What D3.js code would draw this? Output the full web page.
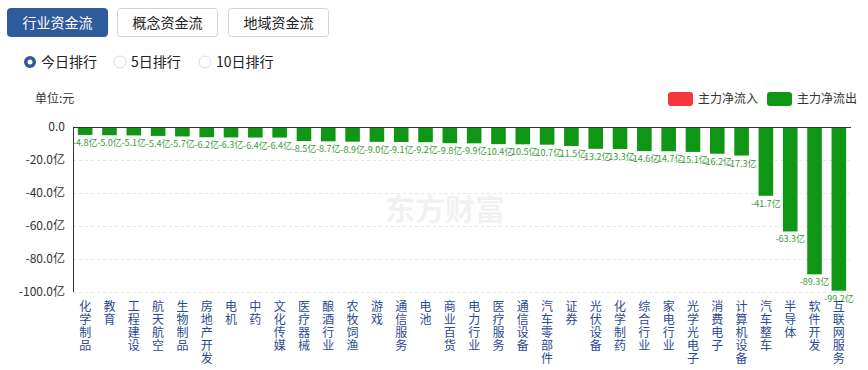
<!DOCTYPE html>
<html lang="zh">
<head>
<meta charset="UTF-8" />
<title>行业资金流</title>
<script src="https://d3js.org/d3.v7.min.js"></script>
<style>
    body { margin: 0; background: #fff; font-family: "Microsoft YaHei", "Noto Sans CJK SC", sans-serif; }
    svg text { font-family: "Noto Sans CJK SC", sans-serif; }
</style>
</head>
<body>
<svg id="chart" width="868" height="370"></svg>
<script>
const categories = ["化学制品", "教育", "工程建设", "航天航空", "生物制品", "房地产开发", "电机", "中药",
    "文化传媒", "医疗器械", "酿酒行业", "农牧饲渔", "游戏", "通信服务", "电池", "商业百货",
    "电力行业", "医疗服务", "通信设备", "汽车零部件", "证券", "光伏设备", "化学制药", "综合行业",
    "家电行业", "光学光电子", "消费电子", "计算机设备", "汽车整车", "半导体", "软件开发", "互联网服务"];
// 主力净流入 (亿元)
const values = [-4.8, -5.0, -5.1, -5.4, -5.7, -6.2, -6.3, -6.4, -6.4, -8.5, -8.7, -8.9, -9.0, -9.1, -9.2, -9.8,
    -9.9, -10.4, -10.5, -10.7, -11.5, -13.2, -13.3, -14.6, -14.7, -15.1, -16.2, -17.3, -41.7, -63.3, -89.3, -99.2];
const yTicks = [0, -20, -40, -60, -80, -100];
const tabs = ["行业资金流", "概念资金流", "地域资金流"];
const ranks = ["今日排行", "5日排行", "10日排行"];
const legendItems = [{ name: "主力净流入", color: "#f5363c" }, { name: "主力净流出", color: "#0f9614" }];

const svg = d3.select("#chart");
const margin = { top: 127, right: 17, bottom: 78, left: 73 };
const width = 868 - margin.left - margin.right;
const height = 370 - margin.top - margin.bottom;

// tabs
const tabX = [7, 117, 228];
tabs.forEach((t, i) => {
    const g = svg.append("g").attr("transform", `translate(${tabX[i]},8)`);
    g.append("rect").attr("x", 0.5).attr("y", 0.5).attr("width", 100).attr("height", 28).attr("rx", 3)
        .attr("fill", i === 0 ? "#2f5a9b" : "#fff").attr("stroke", i === 0 ? "#2f5a9b" : "#c9d3de");
    g.append("text").attr("x", 50.5).attr("y", 19.5).attr("text-anchor", "middle")
        .attr("font-size", 14).attr("fill", i === 0 ? "#fff" : "#222").text(t);
});

// radios
const radioX = [30, 120, 205];
ranks.forEach((r, i) => {
    if (i === 0) {
        svg.append("circle").attr("cx", radioX[i]).attr("cy", 62).attr("r", 6).attr("fill", "#2f5a9b");
        svg.append("circle").attr("cx", radioX[i]).attr("cy", 62).attr("r", 2.5).attr("fill", "#fff");
    } else {
        svg.append("circle").attr("cx", radioX[i]).attr("cy", 62).attr("r", 6).attr("fill", "#fff")
            .attr("stroke", "#d6dde6");
    }
    svg.append("text").attr("x", radioX[i] + 11).attr("y", 67).attr("font-size", 14).attr("fill", "#222").text(r);
});

svg.append("text").attr("x", 35).attr("y", 103).attr("font-size", 12).attr("fill", "#333").text("单位:元");

// legend
const legX = [668, 767];
legendItems.forEach((d, i) => {
    svg.append("rect").attr("x", legX[i]).attr("y", 92).attr("width", 25).attr("height", 14).attr("rx", 3).attr("fill", d.color);
    svg.append("text").attr("x", legX[i] + 30).attr("y", 103).attr("font-size", 12).attr("fill", "#333").text(d.name);
});

// watermark
svg.append("text").attr("x", 445).attr("y", 220).attr("text-anchor", "middle").attr("font-size", 30)
    .attr("font-weight", "bold").attr("fill", "#000").attr("opacity", 0.05).text("东方财富");

const g = svg.append("g").attr("transform", `translate(${margin.left},${margin.top})`);

const x = d3.scaleBand().domain(categories).range([0, width]).paddingInner(0.4).paddingOuter(0.2);
const y = d3.scaleLinear().domain([-100, 0]).range([height, 0]);

// grid
g.selectAll(".grid").data(yTicks.filter(d => d !== 0)).enter().append("line")
    .attr("x1", 0).attr("x2", width).attr("y1", d => y(d) + 0.5).attr("y2", d => y(d) + 0.5)
    .attr("stroke", "#e6e6e6").attr("stroke-dasharray", "3,3");

// y axis labels
g.selectAll(".ytick").data(yTicks).enter().append("text")
    .attr("x", -8).attr("y", d => y(d) + 4).attr("text-anchor", "end")
    .attr("font-size", 12).attr("fill", "#333")
    .text(d => d === 0 ? "0.0" : d.toFixed(1) + "亿");

// bars
g.selectAll(".bar").data(values).enter().append("rect")
    .attr("x", (d, i) => x(categories[i]))
    .attr("y", y(0))
    .attr("width", x.bandwidth())
    .attr("height", d => y(d) - y(0))
    .attr("fill", "#0f9614");

// value labels
g.selectAll(".vlabel").data(values).enter().append("text")
    .attr("x", (d, i) => x(categories[i]) + x.bandwidth() / 2)
    .attr("y", d => y(d) + 11)
    .attr("text-anchor", "middle").attr("font-size", 9).attr("fill", "#3a9a3a")
    .text(d => d.toFixed(1) + "亿");

// axes lines
g.append("line").attr("x1", 0).attr("x2", width).attr("y1", 0.5).attr("y2", 0.5).attr("stroke", "#333");
g.append("line").attr("x1", 0.5).attr("x2", 0.5).attr("y1", 0).attr("y2", height).attr("stroke", "#333");

// category labels, vertical one char per line
categories.forEach((c, i) => {
    const t = g.append("text").attr("text-anchor", "middle").attr("font-size", 12).attr("fill", "#2c4a94");
    Array.from(c).forEach((ch, j) => {
        t.append("tspan").attr("x", x(c) + x.bandwidth() / 2).attr("y", height + 19 + j * 13).text(ch);
    });
});
</script>
</body>
</html>
